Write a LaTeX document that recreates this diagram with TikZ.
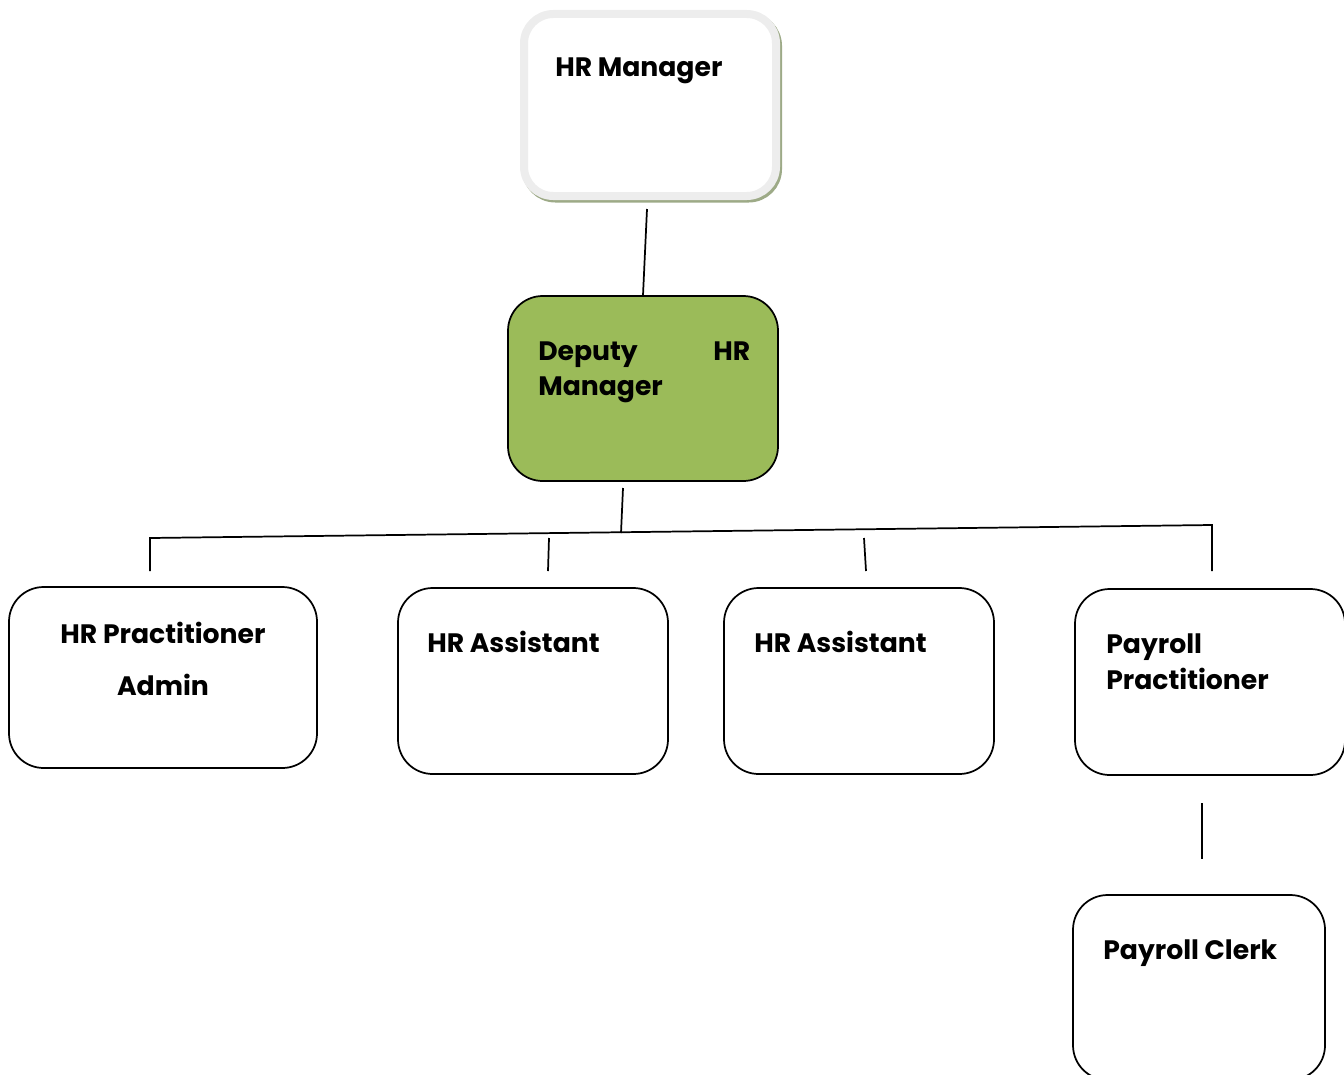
\documentclass[tikz,border=0pt]{standalone}
\usepackage{fontspec}
\setmainfont{Poppins}
\definecolor{dgreen}{HTML}{9BBB59}
\definecolor{mgrrim}{HTML}{EDEDED}
\definecolor{mgrshade}{HTML}{9DAA87}
\begin{document}
\begin{tikzpicture}[x=0.75pt,y=-0.75pt,
  box/.style={draw=black, line width=1.3pt, rounded corners=26pt, fill=white, inner sep=0pt},
  lbl/.style={font=\fontsize{20}{24}\selectfont\bfseries, inner sep=0pt},
  conn/.style={line width=1.3pt, black}]
\useasboundingbox (0,0) rectangle (1344,1074);
% HR Manager
\node[draw=mgrshade, fill=mgrshade, line width=6pt, rounded corners=22pt, minimum width=189pt, minimum height=136.5pt, inner sep=0pt] (mgrsh) at (652,107.5) {};
\node[draw=mgrrim, fill=white, line width=6pt, rounded corners=22pt, minimum width=189pt, minimum height=136.5pt, inner sep=0pt] (mgr) at (650,105) {};
\node[lbl, anchor=base west] (tmgr) at (555,77) {HR Manager};
% Deputy
\node[box, fill=dgreen, minimum width=202.5pt, minimum height=138.75pt] (dep) at (643,388.5) {};
\node[lbl, anchor=base west, text width=159pt, align=left] (tdep1) at (538,360) {Deputy\hfill HR};
\node[lbl, anchor=base west] (tdep2) at (538,395) {Manager};
% Level 3
\node[box, minimum width=231pt, minimum height=135.75pt] (adm) at (163,677.5) {};
\node[lbl, anchor=base] (tadm1) at (163,643) {HR Practitioner};
\node[lbl, anchor=base] (tadm2) at (163,695) {Admin};
\node[box, minimum width=202.5pt, minimum height=139.5pt] (as1) at (533,681) {};
\node[lbl, anchor=base west] (tas1) at (427,652) {HR Assistant};
\node[box, minimum width=202.5pt, minimum height=139.5pt] (as2) at (859,681) {};
\node[lbl, anchor=base west] (tas2) at (754,652) {HR Assistant};
\node[box, minimum width=202.5pt, minimum height=139.5pt] (pp) at (1210,682) {};
\node[lbl, anchor=base west] (tpp1) at (1106,653) {Payroll};
\node[lbl, anchor=base west] (tpp2) at (1106,689) {Practitioner};
\node[box, minimum width=189pt, minimum height=138.75pt] (pc) at (1199,987.5) {};
\node[lbl, anchor=base west] (tpc) at (1103,959) {Payroll Clerk};
% connector points
\coordinate (m1) at (647,209);
\coordinate (d1) at (623,488);
\coordinate (d2) at (621,533);
\coordinate (hL) at (150,538);
\coordinate (hR) at (1212,525);
\coordinate (aL) at (150,571);
\coordinate (aR) at (1212,571);
\coordinate (s1a) at (549,538);
\coordinate (s1b) at (548,571);
\coordinate (s2a) at (864,538);
\coordinate (s2b) at (866,571);
\coordinate (p1) at (1202,803);
\coordinate (p2) at (1202,859);
\draw[conn] (m1) -- (dep.north);
\draw[conn] (d1) -- (d2);
\draw[conn] (aL) -- (hL) -- (hR) -- (aR);
\draw[conn] (s1a) -- (s1b);
\draw[conn] (s2a) -- (s2b);
\draw[conn] (p1) -- (p2);
\end{tikzpicture}
\end{document}
